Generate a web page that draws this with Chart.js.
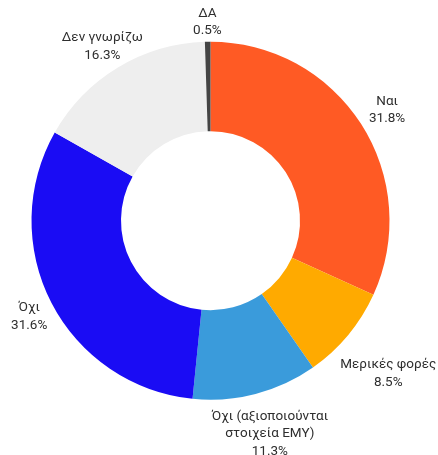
<!DOCTYPE html>
<html lang="el">
<head>
<meta charset="utf-8">
<script src="https://cdn.jsdelivr.net/npm/chart.js@4/dist/chart.umd.min.js"></script>
<style>
    body {
        margin: 0;
        background: #ffffff;
    }

    .chartBox {
        width: 438px;
        height: 455px;
    }
</style>
</head>
<body>

<div class="chartBox">
    <canvas id="answersChart" width="438" height="455"></canvas>
</div>

<script>

    // Απαντήσεις (σε %), δεξιόστροφα από την κορυφή
    var categories = ['Ναι', 'Μερικές φορές', ['Όχι (αξιοποιούνται', 'στοιχεία ΕΜΥ)'], 'Όχι', 'Δεν γνωρίζω', 'ΔΑ'];
    var shares = [31.8, 8.5, 11.3, 31.6, 16.3, 0.5];
    var sliceColors = ['#ff5a24', '#ffaa00', '#3a9bdb', '#1a0cf4', '#eeeeee', '#444444'];

    var labelFont = '13.5px Roboto';
    var labelColor = '#2e2e2e';
    var lineHeight = 17.5;
    // μικρές διορθώσεις θέσης ετικετών (px)
    var labelNudge = [[4.5, 0], [2.5, 7], [4, 0], [0, 2], [3.5, 10.5], [0, -1]];

    // ετικέτες έξω από τον δακτύλιο
    var outsideLabels = {
        id: 'outsideLabels',
        afterDatasetsDraw: function (chart) {
            var ctx = chart.ctx;
            var meta = chart.getDatasetMeta(0);

            ctx.save();
            ctx.font = labelFont;
            ctx.fillStyle = labelColor;
            ctx.textAlign = 'center';
            ctx.textBaseline = 'middle';

            meta.data.forEach(function (arc, i) {
                var lines = [].concat(categories[i]);
                lines.push(shares[i].toFixed(1) + '%');

                var w = 0;
                lines.forEach(function (l) {
                    w = Math.max(w, ctx.measureText(l).width);
                });
                var h = lines.length * lineHeight;

                var mid = (arc.startAngle + arc.endAngle) / 2;
                var dx = Math.cos(mid);
                var dy = Math.sin(mid);
                var reach = Math.abs(dx) * w / 2 + Math.abs(dy) * h / 2;
                var dist = arc.outerRadius + 1 + reach;

                var cx = arc.x + dx * dist + labelNudge[i][0];
                var cy = arc.y + dy * dist + labelNudge[i][1];
                var top = cy - h / 2 + lineHeight / 2;

                lines.forEach(function (l, k) {
                    ctx.fillText(l, cx, top + k * lineHeight);
                });
            });

            ctx.restore();
        }
    };

    var ctx = document.getElementById('answersChart').getContext('2d');

    var answersChart = new Chart(ctx, {
        type: 'doughnut',
        data: {
            labels: categories,
            datasets: [{
                data: shares,
                backgroundColor: sliceColors,
                borderWidth: 0,
                hoverOffset: 0
            }]
        },
        options: {
            responsive: false,
            animation: false,
            cutout: '50%',
            layout: {
                padding: { left: 31.5, right: 48.5, top: 41.7, bottom: 55.3 }
            },
            plugins: {
                legend: { display: false },
                tooltip: { enabled: false }
            }
        },
        plugins: [outsideLabels]
    });

</script>
</body>
</html>
